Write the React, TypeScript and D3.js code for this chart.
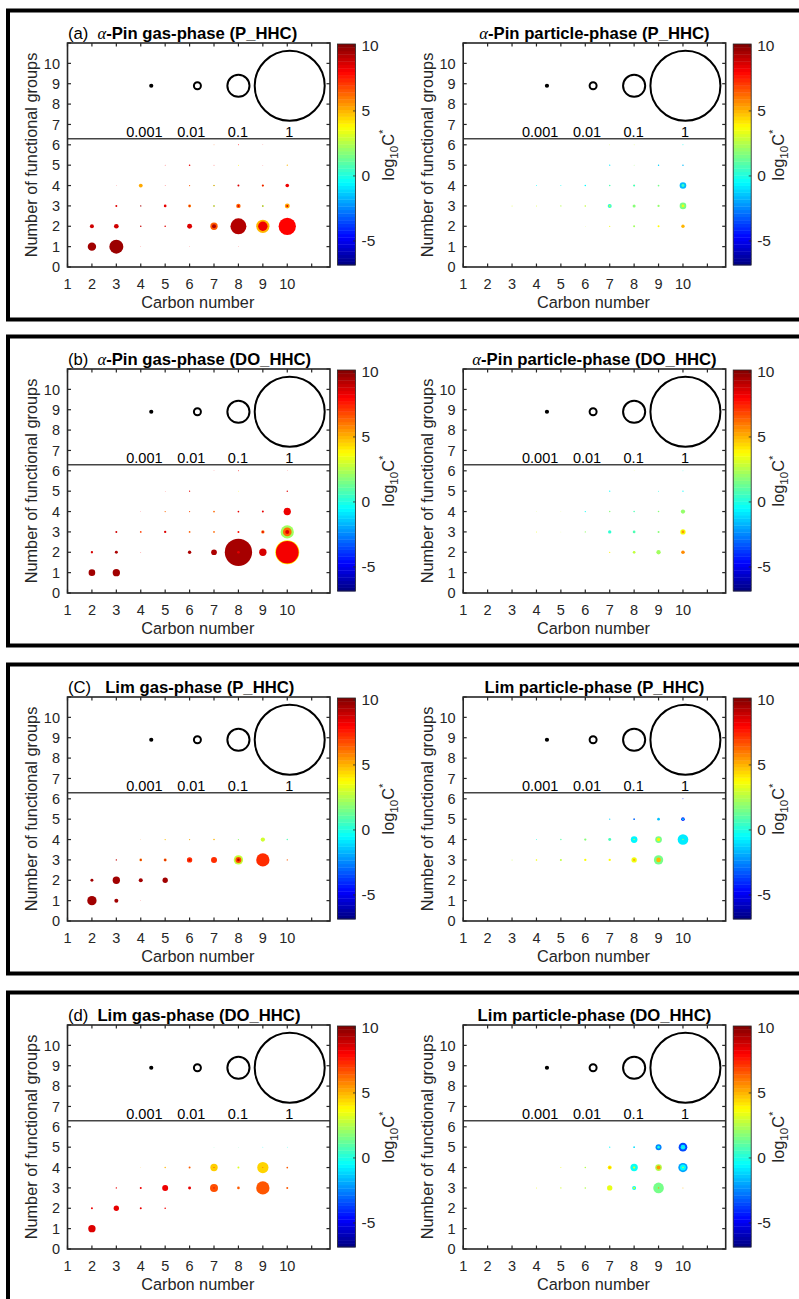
import React from 'react';
import * as d3 from 'd3';

// [carbon number, functional groups, mass fraction, log10 C*]
type Bubble = [number, number, number, number];

const F = 0.00005; // trace species

const aPinGasPHHC: Bubble[] = [
  [2, 1, 0.0144, 9.6], [3, 1, 0.04, 9.7], [4, 1, F, 8], [6, 1, F, 8], [8, 1, F, 8],
  [2, 2, 0.0033, 8.8], [3, 2, 0.0045, 8.8], [4, 2, 0.0005, 9], [5, 2, 0.0005, 8.5],
  [6, 2, 0.005, 8.6], [7, 2, 0.011, 6.5], [7, 2, 0.0033, 9.3], [8, 2, 0.052, 9.3],
  [9, 2, 0.036, 5.0], [9, 2, 0.018, 8.3], [10, 2, 0.061, 8.0],
  [3, 3, 0.0008, 8.5], [4, 3, 0.0004, 9.5], [5, 3, 0.0015, 8.4], [6, 3, 0.0018, 6.0],
  [6, 3, 0.0004, 8.5], [7, 3, 0.0006, 2.5], [7, 3, 0.0002, 8.5], [8, 3, 0.004, 6.3],
  [8, 3, 0.0008, 8.5], [9, 3, 0.0008, 2.5], [9, 3, 0.0002, 8.5], [10, 3, 0.005, 5.2],
  [10, 3, 0.0008, 8.5],
  [3, 4, F, 8], [4, 4, 0.003, 5.2], [5, 4, 0.0001, 8], [6, 4, 0.0003, 6.5],
  [7, 4, 0.0005, 3], [7, 4, 0.00015, 8.5], [8, 4, 0.0008, 8.6], [9, 4, 0.001, 6.5],
  [9, 4, 0.0004, 8.5], [10, 4, 0.0027, 8.3],
  [5, 5, 0.0001, 8], [6, 5, 0.0005, 8.4], [7, 5, 0.0001, 8], [8, 5, 0.0002, 4],
  [9, 5, F, 8], [10, 5, 0.0003, 5],
  [7, 6, 0.0001, 6.5], [8, 6, 0.0002, 8], [9, 6, F, 8],
];

const aPinParticlePHHC: Bubble[] = [
  [6, 2, F, 3], [7, 2, 0.0003, 3.5], [8, 2, 0.0008, 2.2], [9, 2, 0.0008, 3.8], [10, 2, 0.0023, 5.0],
  [3, 3, 0.0002, 3.2], [4, 3, 0.0002, 3.2], [5, 3, 0.0003, 2.5], [6, 3, 0.0005, 2.8],
  [7, 3, 0.0033, 0.2], [7, 3, 0.0008, 2.5], [8, 3, 0.0019, 1.8], [9, 3, 0.001, 2.0],
  [10, 3, 0.009, 1.6], [10, 3, 0.0015, 3.5],
  [4, 4, 0.0002, -0.5], [5, 4, 0.0002, -0.3], [6, 4, 0.0005, -0.5], [7, 4, 0.0005, 0.8],
  [8, 4, 0.0008, 1.5], [8, 4, 0.0003, -0.5], [9, 4, 0.0006, 1.5], [10, 4, 0.009, -1.6],
  [10, 4, 0.0018, 0.5],
  [7, 5, 0.0003, -0.8], [8, 5, 0.0001, 2], [9, 5, 0.0004, -1.2], [10, 5, 0.0004, -1.6],
  [7, 6, 0.0001, 3], [8, 6, 0.0001, 3], [10, 6, 0.0002, -0.3],
];

const aPinGasDOHHC: Bubble[] = [
  [2, 1, 0.009, 9.6], [3, 1, 0.011, 9.6],
  [2, 2, 0.0011, 8.7], [3, 2, 0.0018, 9.4], [4, 2, 0.0001, 8], [6, 2, 0.0023, 9.4],
  [7, 2, 0.0066, 9.4], [8, 2, 0.152, 9.5], [8, 2, 0.0014, 8.5], [9, 2, 0.011, 8.7],
  [10, 2, 0.118, 4.0], [10, 2, 0.105, 8.2],
  [3, 3, 0.0008, 8.8], [4, 3, 0.0006, 7.0], [5, 3, 0.0011, 8.6], [6, 3, 0.0006, 6.5],
  [7, 3, 0.0006, 6.3], [8, 3, 0.0008, 7.8], [9, 3, 0.0023, 6.3], [9, 3, 0.0006, 8.5],
  [10, 3, 0.036, 2.2], [10, 3, 0.0153, 6.3], [10, 3, 0.0033, 8.5],
  [4, 4, F, 8], [5, 4, 0.0003, 6.3], [6, 4, 0.0003, 6.8], [7, 4, 0.0006, 6.3],
  [8, 4, 0.0006, 8.4], [9, 4, 0.0008, 8.4], [10, 4, 0.011, 8.3],
  [5, 5, F, 8], [6, 5, 0.0003, 8.5], [8, 5, 0.0001, 4], [10, 5, 0.0004, 8.5],
  [7, 6, F, 8], [8, 6, 0.0002, 8.2], [10, 6, F, 8],
];

const aPinParticleDOHHC: Bubble[] = [
  [7, 2, 0.0003, 4.0], [8, 2, 0.0015, 2.4], [8, 2, 0.0004, 3.5], [9, 2, 0.0038, 2.2],
  [10, 2, 0.0027, 5.7],
  [4, 3, 0.0002, 3.5], [5, 3, F, 3], [6, 3, 0.0003, 2], [7, 3, 0.0023, 0.3],
  [8, 3, 0.0015, 0.8], [9, 3, 0.0008, 1.8], [10, 3, 0.0058, 3.6], [10, 3, 0.0015, 5.5],
  [4, 4, F, 3], [5, 4, F, 3], [6, 4, 0.0003, -0.3], [7, 4, 0.0004, 1.8],
  [8, 4, 0.0005, 0.8], [9, 4, 0.0005, 1.8], [10, 4, 0.0038, 2.0],
  [7, 5, 0.0003, -0.5], [9, 5, 0.0002, 0], [10, 5, 0.0003, -0.5],
  [8, 6, F, 3], [10, 6, 0.0001, 0],
];

const limGasPHHC: Bubble[] = [
  [2, 1, 0.0178, 9.6], [3, 1, 0.0033, 9.6], [4, 1, F, 8],
  [2, 2, 0.0018, 9.6], [3, 2, 0.011, 9.6], [4, 2, 0.0033, 9.6], [5, 2, 0.0058, 9.6],
  [3, 3, 0.0004, 9.0], [4, 3, 0.0014, 6.0], [4, 3, 0.0004, 9.0], [5, 3, 0.0018, 6.3],
  [5, 3, 0.0005, 9.0], [6, 3, 0.0058, 7.3], [6, 3, 0.0008, 8.8], [7, 3, 0.0073, 7.3],
  [8, 3, 0.0178, 2.8], [8, 3, 0.0073, 6.8], [8, 3, 0.0014, 9.0], [9, 3, 0.036, 7.3],
  [10, 3, 0.0003, 6.5],
  [4, 4, F, 6], [5, 4, 0.0003, 4.8], [6, 4, 0.0003, 5.2], [7, 4, 0.0005, 5.0],
  [8, 4, 0.0003, 2], [9, 4, 0.0038, 3.0], [10, 4, 0.0004, 0.8],
];

const limParticlePHHC: Bubble[] = [
  [3, 3, 0.0002, 2.8], [4, 3, 0.0005, 3.6], [5, 3, 0.0008, 2.7], [6, 3, 0.0011, 3.7],
  [7, 3, 0.0011, 3.8], [8, 3, 0.0058, 3.5], [8, 3, 0.0011, 5.0], [9, 3, 0.0178, 1.5],
  [9, 3, 0.0044, 5.0],
  [4, 4, 0.0002, 0], [5, 4, 0.0004, 1.0], [6, 4, 0.0011, 1.8], [7, 4, 0.0018, 0.7],
  [8, 4, 0.0091, -0.6], [8, 4, 0.0004, 3], [9, 4, 0.0091, 1.5], [9, 4, 0.0023, 4.0],
  [10, 4, 0.023, -0.8], [10, 4, 0.0004, 2],
  [7, 5, 0.0003, -1.2], [8, 5, 0.0006, -3.0], [9, 5, 0.0015, -1.5], [10, 5, 0.0027, -4.0],
  [10, 5, 0.0006, -1.0],
  [10, 6, 0.0002, -4],
];

const limGasDOHHC: Bubble[] = [
  [2, 1, 0.011, 8.6],
  [2, 2, 0.0008, 8.3], [3, 2, 0.0058, 8.4], [4, 2, 0.0008, 8.4], [5, 2, 0.0005, 8.2],
  [3, 3, 0.0004, 8.3], [4, 3, 0.0008, 8.3], [5, 3, 0.0073, 8.3], [6, 3, 0.0018, 8.4],
  [7, 3, 0.013, 6.7], [7, 3, 0.0003, 8.5], [8, 3, 0.0014, 6.5], [9, 3, 0.036, 6.6],
  [10, 3, 0.0008, 6.5],
  [4, 4, F, 5], [5, 4, 0.0004, 5], [6, 4, 0.0008, 6.5], [7, 4, 0.011, 4.6],
  [7, 4, 0.0002, 8], [8, 4, 0.0008, 3.2], [9, 4, 0.026, 4.5], [9, 4, 0.0002, 7],
  [10, 4, 0.0006, 6.5],
  [7, 5, F, 1], [8, 5, F, 1], [9, 5, 0.0001, -0.3], [10, 5, 0.0001, -0.3],
];

const limParticleDOHHC: Bubble[] = [
  [4, 3, 0.0002, 3.5], [5, 3, 0.0003, 3.0], [6, 3, 0.0005, 2.5], [7, 3, 0.0058, 3.4],
  [8, 3, 0.0033, -0.3], [8, 3, 0.0008, 3.5], [9, 3, 0.023, 1.5], [9, 3, 0.0004, 5.5],
  [10, 3, 0.0002, 5],
  [5, 4, 0.0002, 3.5], [6, 4, 0.0005, 2.5], [7, 4, 0.0033, 3.8], [7, 4, 0.001, 5],
  [8, 4, 0.011, -0.3], [8, 4, 0.001, 3.5], [9, 4, 0.0091, 2.5], [9, 4, 0.0033, 5.5],
  [10, 4, 0.0178, -2], [10, 4, 0.0073, -0.5], [10, 4, 0.0005, 3],
  [7, 5, 0.0003, -0.5], [8, 5, 0.0006, -1], [9, 5, 0.0073, -2.5], [9, 5, 0.0014, 0],
  [10, 5, 0.0153, -3.5], [10, 5, 0.0044, -0.8], [10, 5, 0.0002, 3],
];

const carbonTicks = [1, 2, 3, 4, 5, 6, 7, 8, 9, 10, 11];
const carbonLabels = [1, 2, 3, 4, 5, 6, 7, 8, 9, 10];
const groupTicks = [0, 1, 2, 3, 4, 5, 6, 7, 8, 9, 10, 11];
const groupLabels = [0, 1, 2, 3, 4, 5, 6, 7, 8, 9, 10];
const colorbarTicks = [-5, 0, 5, 10];
const colorDomain: [number, number] = [-6.85, 10.15];

const legendFractions = [0.001, 0.01, 0.1, 1];
const legendLabels = ['0.001', '0.01', '0.1', '1'];
const legendCircleX = [4.43, 6.32, 8.0, 10.1];
const legendLabelX = [4.15, 6.07, 7.98, 10.08];
const legendY = 8.9;
const separatorY = 6.3;

const rowTags = ['(a)', '(b)', '(C)', '(d)'];
const rowPrecursors = ['α-Pin', 'α-Pin', 'Lim', 'Lim'];
const rowMechanisms = ['P_HHC', 'DO_HHC', 'P_HHC', 'DO_HHC'];
const gasData = [aPinGasPHHC, aPinGasDOHHC, limGasPHHC, limGasDOHHC];
const particleData = [aPinParticlePHHC, aPinParticleDOHHC, limParticlePHHC, limParticleDOHHC];

const W = 799;
const H = 1299;
const ROW_OFFSETS = [0, 326, 654, 982];
const AX_W = 262.5;
const AX_TOP = 43;
const AX_BOTTOM = 267;
const FONT = '"Liberation Sans", Arial, Helvetica, sans-serif';
const INK = '#262626';
const TITLE_SIZE = 16.7;

function jet(t: number): string {
  const c = (v: number) => Math.max(0, Math.min(1, v));
  const r = c(Math.min(4 * t - 1.5, -4 * t + 4.5));
  const g = c(Math.min(4 * t - 0.5, -4 * t + 3.5));
  const b = c(Math.min(4 * t + 0.5, -4 * t + 2.5));
  return d3.rgb(r * 255, g * 255, b * 255).formatHex();
}

const colorT = d3.scaleLinear().domain(colorDomain).range([0, 1]).clamp(true);
const rScale = d3.scaleSqrt().domain([0, 1]).range([0, 35]);

type PanelProps = {
  x0: number;
  dy: number;
  data: Bubble[];
  title: React.ReactNode;
  cbLabelDx: number;
  idKey: string;
};

function Panel({ x0, dy, data, title, cbLabelDx, idKey }: PanelProps) {
  const x = d3.scaleLinear().domain([1, 11.75]).range([x0, x0 + AX_W]);
  const y = d3.scaleLinear().domain([0, 11]).range([AX_BOTTOM + dy, AX_TOP + dy]);
  const cbX = x0 + 270;
  const cbW = 18;
  const cbY = d3.scaleLinear().domain(colorDomain).range([265 + dy, 44 + dy]);
  const sorted = [...data].sort((a, b) => b[2] - a[2]);
  const nSteps = 64;
  const steps = d3.range(nSteps);
  const stepSize = (colorDomain[1] - colorDomain[0]) / nSteps;
  const tickLen = 3.5;
  const left = x0;
  const right = x0 + AX_W;
  const top = AX_TOP + dy;
  const bottom = AX_BOTTOM + dy;
  const yMid = (top + bottom) / 2;
  const xMid = (left + right) / 2;

  return (
    <g>
      {/* bubbles */}
      <g>
        {sorted.map((d, i) => (
          <circle
            key={`${idKey}-b-${i}`}
            cx={x(d[0])}
            cy={y(d[1])}
            r={rScale(d[2])}
            fill={jet(colorT(d[3]))}
          />
        ))}
      </g>
      {/* size legend */}
      {legendFractions.map((f, i) => (
        <circle
          key={`${idKey}-lc-${i}`}
          cx={x(legendCircleX[i])}
          cy={y(legendY)}
          r={rScale(f)}
          fill="none"
          stroke="#000"
          strokeWidth={2}
        />
      ))}
      {legendLabels.map((s, i) => (
        <text
          key={`${idKey}-ll-${i}`}
          x={x(legendLabelX[i])}
          y={y(separatorY) - 2}
          textAnchor="middle"
          fontFamily={FONT}
          fontSize={14.5}
          fill="#000"
        >
          {s}
        </text>
      ))}
      <line x1={left} x2={right} y1={y(separatorY)} y2={y(separatorY)} stroke="#444" strokeWidth={1.4} />
      {/* axes frame and ticks */}
      <rect x={left} y={top} width={AX_W} height={bottom - top} fill="none" stroke={INK} strokeWidth={1.6} />
      {carbonTicks.map((t) => (
        <g key={`${idKey}-xt-${t}`}>
          <line x1={x(t)} x2={x(t)} y1={bottom} y2={bottom - tickLen} stroke={INK} strokeWidth={1.2} />
          <line x1={x(t)} x2={x(t)} y1={top} y2={top + tickLen} stroke={INK} strokeWidth={1.2} />
        </g>
      ))}
      {groupTicks.map((t) => (
        <g key={`${idKey}-yt-${t}`}>
          <line x1={left} x2={left + tickLen} y1={y(t)} y2={y(t)} stroke={INK} strokeWidth={1.2} />
          <line x1={right} x2={right - tickLen} y1={y(t)} y2={y(t)} stroke={INK} strokeWidth={1.2} />
        </g>
      ))}
      {carbonLabels.map((t) => (
        <text
          key={`${idKey}-xl-${t}`}
          x={x(t)}
          y={bottom + 22}
          textAnchor="middle"
          fontFamily={FONT}
          fontSize={14.5}
          fill={INK}
        >
          {t}
        </text>
      ))}
      {groupLabels.map((t) => (
        <text
          key={`${idKey}-yl-${t}`}
          x={left - 7.5}
          y={y(t) + 5.2}
          textAnchor="end"
          fontFamily={FONT}
          fontSize={14.5}
          fill={INK}
        >
          {t}
        </text>
      ))}
      <text x={xMid - 1} y={bottom + 41} textAnchor="middle" fontFamily={FONT} fontSize={16.3} fill={INK}>
        Carbon number
      </text>
      <text
        transform={`translate(${left - 30.5},${yMid}) rotate(-90)`}
        textAnchor="middle"
        fontFamily={FONT}
        fontSize={16.3}
        fill={INK}
      >
        Number of functional groups
      </text>
      {/* title */}
      {title}
      {/* colorbar */}
      <g>
        {steps.map((i) => {
          const v0 = colorDomain[0] + i * stepSize;
          const v1 = v0 + stepSize;
          return (
            <rect
              key={`${idKey}-cb-${i}`}
              x={cbX}
              y={cbY(v1)}
              width={cbW}
              height={cbY(v0) - cbY(v1) + 0.4}
              fill={jet((i + 0.5) / nSteps)}
            />
          );
        })}
        <rect x={cbX} y={cbY(colorDomain[1])} width={cbW} height={cbY(colorDomain[0]) - cbY(colorDomain[1])} fill="none" stroke={INK} strokeWidth={0.8} />
        {colorbarTicks.map((t) => (
          <g key={`${idKey}-ct-${t}`}>
            <line x1={cbX + cbW} x2={cbX + cbW - 2.5} y1={cbY(t)} y2={cbY(t)} stroke={INK} strokeWidth={0.8} />
            <text x={cbX + cbW + 6} y={cbY(t) + 5.5} fontFamily={FONT} fontSize={15.5} fill={INK}>
              {t}
            </text>
          </g>
        ))}
        <text
          transform={`translate(${cbX + cbLabelDx},${yMid}) rotate(-90)`}
          textAnchor="middle"
          fontFamily={FONT}
          fontSize={16.3}
          fill={INK}
        >
          log
          <tspan dy={4} fontSize={11.5}>10</tspan>
          <tspan dy={-4}>C</tspan>
          <tspan dy={-7} fontSize={11.5}>*</tspan>
        </text>
      </g>
    </g>
  );
}

function Precursor({ name, dx = 0 }: { name: string; dx?: number }) {
  if (name.startsWith('α')) {
    return (
      <>
        <tspan dx={dx} fontFamily='"Liberation Serif", "DejaVu Serif", serif' fontStyle="italic" fontWeight="normal">α</tspan>
        <tspan fontWeight="bold">{name.slice(1)}</tspan>
      </>
    );
  }
  return <tspan dx={dx} fontWeight="bold">{name}</tspan>;
}

export default function App() {
  const leftX0 = 67.5;
  const rightX0 = 463.2;
  return (
    <svg
      width={W}
      height={H}
      viewBox={`0 0 ${W} ${H}`}
      style={{ position: 'absolute', left: 0, top: 0, background: '#fff' }}
    >
      <rect x={0} y={0} width={W} height={H} fill="#fff" />
      {ROW_OFFSETS.map((dy, row) => (
        <g key={`row-${row}`}>
          <rect x={8} y={10.5 + dy} width={900} height={309} fill="none" stroke="#000" strokeWidth={4} />
          <Panel
            idKey={`g${row}`}
            x0={leftX0}
            dy={dy}
            data={gasData[row]}
            cbLabelDx={56}
            title={
              <text x={68} y={39 + dy} fontFamily={FONT} fontSize={TITLE_SIZE} fill="#000">
                <tspan>{rowTags[row]}</tspan>
                <Precursor name={rowPrecursors[row]} dx={row === 2 ? 14 : 9} />
                <tspan fontWeight="bold">{` gas-phase (${rowMechanisms[row]})`}</tspan>
              </text>
            }
          />
          <Panel
            idKey={`p${row}`}
            x0={rightX0}
            dy={dy}
            data={particleData[row]}
            cbLabelDx={51}
            title={
              <text x={rightX0 + AX_W / 2} y={38.5 + dy} textAnchor="middle" fontFamily={FONT} fontSize={TITLE_SIZE} fill="#000">
                <Precursor name={rowPrecursors[row]} />
                <tspan fontWeight="bold">{` particle-phase (${rowMechanisms[row]})`}</tspan>
              </text>
            }
          />
        </g>
      ))}
    </svg>
  );
}
